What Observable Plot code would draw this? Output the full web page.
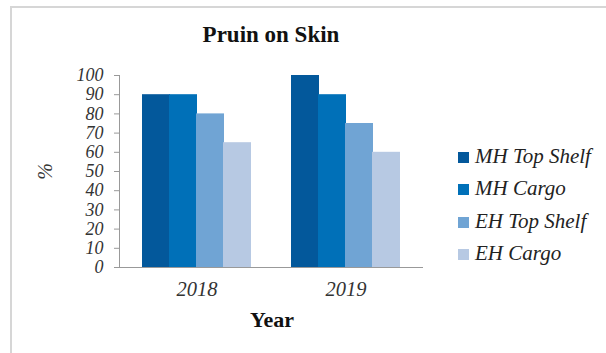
<!DOCTYPE html>
<html>
<head>
<meta charset="utf-8">
<script src="https://cdn.jsdelivr.net/npm/d3@7"></script>
<script src="https://cdn.jsdelivr.net/npm/@observablehq/plot@0.6"></script>
<style>
  html, body { margin: 0; padding: 0; background: #fff; }
  #wrap { position: relative; width: 606px; height: 353px; overflow: hidden; font-family: "Liberation Serif", "Times New Roman", Times, "DejaVu Serif", serif; }
  #frame { position: absolute; left: 10px; top: 6px; width: 620px; height: 380px; border-top: 2px solid #d6d6d6; border-left: 2px solid #d6d6d6; }
  #title { position: absolute; left: 0; width: 542px; top: 22px; text-align: center; font-weight: bold; font-size: 23px; color: #111; }
  #xlabel { position: absolute; left: 0; width: 544px; top: 307px; text-align: center; font-weight: bold; font-size: 22px; color: #111; }
  #legend { position: absolute; left: 458px; top: 144px; }
  .item { height: 32.3px; display: flex; align-items: flex-start; font-style: italic; font-size: 21px; color: #222; white-space: nowrap; }
  .sw { width: 11px; height: 11px; margin-top: 8px; margin-right: 6px; flex: none; }
  #chart { position: absolute; left: 0; top: 0; }
</style>
</head>
<body>
<div id="wrap">
  <div id="frame"></div>
  <div id="chart"></div>
  <div id="title"></div>
  <div id="xlabel"></div>
  <div id="legend"></div>
</div>
<script>
const years = ["2018", "2019"];
const seriesNames = ["MH Top Shelf", "MH Cargo", "EH Top Shelf", "EH Cargo"];
const mhTopShelf = [90, 100];
const mhCargo = [90, 90];
const ehTopShelf = [80, 75];
const ehCargo = [65, 60];
const colors = ["#03589b", "#0070b8", "#70a4d4", "#b7c9e3"];
const yTicks = [0, 10, 20, 30, 40, 50, 60, 70, 80, 90, 100];
const titleText = "Pruin on Skin";
const xLabelText = "Year";
const yLabelText = "%";

const seriesValues = [mhTopShelf, mhCargo, ehTopShelf, ehCargo];
const data = [];
seriesNames.forEach((s, i) => years.forEach((y, j) => data.push({year: y, series: s, value: seriesValues[i][j], idx: i})));

const barW = 27;
const marks = seriesNames.map((s, i) => Plot.barY(data.filter(d => d.series === s), {
  x: "year", y: "value", fill: colors[i],
  insetLeft: barW * i, insetRight: barW * (3 - i)
}));

const chart = Plot.plot({
  width: 606,
  height: 353,
  marginLeft: 119,
  marginRight: 183,
  marginTop: 75,
  marginBottom: 86,
  style: { fontFamily: "'Liberation Serif', 'Times New Roman', Times, 'DejaVu Serif', serif", fontSize: "20.5px", fontStyle: "italic", color: "#333", background: "transparent", overflow: "visible" },
  x: { domain: years, paddingInner: 0.27, paddingOuter: 0.15, label: null },
  y: { domain: [0, 100], ticks: yTicks, label: null },
  marks: [
    ...marks,
    Plot.axisY({ ticks: yTicks, tickSize: 5, tickPadding: 11, stroke: "#999", label: null, fill: "#333", fontSize: 18 }),
    Plot.axisY({ ticks: [], label: yLabelText, labelAnchor: "center", labelOffset: 82, labelArrow: "none", fill: "#333", fontSize: 20 }),
    Plot.axisX({ tickSize: 0, tickPadding: 14, label: null, fill: "#333" }),
    Plot.frame({ anchor: "left", stroke: "#999" }),
    Plot.ruleY([0], { stroke: "#999" })
  ]
});
document.getElementById("chart").appendChild(chart);
document.getElementById("title").textContent = titleText;
document.getElementById("xlabel").textContent = xLabelText;
const legend = document.getElementById("legend");
seriesNames.forEach((s, i) => {
  const it = document.createElement("div");
  it.className = "item";
  const sw = document.createElement("span");
  sw.className = "sw";
  sw.style.background = colors[i];
  const t = document.createElement("span");
  t.textContent = s;
  it.appendChild(sw); it.appendChild(t);
  legend.appendChild(it);
});
</script>
</body>
</html>
